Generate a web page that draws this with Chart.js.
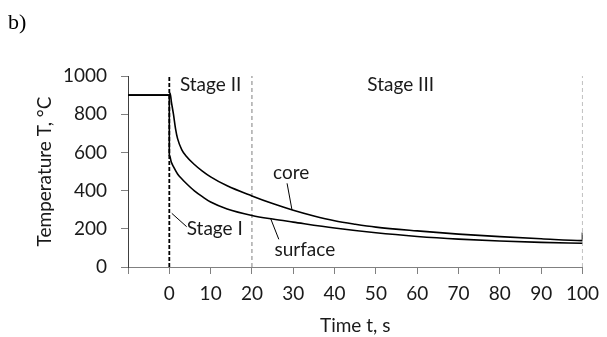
<!DOCTYPE html>
<html>
<head>
<meta charset="utf-8">
<script src="https://cdn.jsdelivr.net/npm/chart.js@4.4.1/dist/chart.umd.min.js"></script>
<style>
  body { margin: 0; background: #fff; }
  #wrap { width: 607px; height: 337px; position: relative; }
</style>
</head>
<body>
<div id="wrap"><canvas id="myChart"></canvas></div>
<script>
//data
const coreTime = [-10, 0, 0.2, 0.5, 1, 1.5, 2, 3, 4, 6, 8, 10, 14, 20, 25, 30, 35, 40, 45, 50, 60, 70, 80, 90, 100, 100];
const coreTemp = [900, 900, 910, 865, 800, 725, 672, 615, 583, 538, 502, 472, 425, 372, 332, 297, 267, 242, 224, 209, 189, 172, 159, 148, 138, 180];

const surfaceTime = [-10, 0, 0, 0.5, 1, 2, 3, 4, 6, 8, 10, 14, 20, 25, 30, 40, 50, 60, 70, 80, 90, 100];
const surfaceTemp = [900, 900, 586, 548, 525, 487, 462, 440, 400, 368, 340, 304, 270, 251, 235, 204, 179, 160, 146, 136, 129, 124];

const stageLines = [0, 20, 100];

const xTicks = [-10, 0, 10, 20, 30, 40, 50, 60, 70, 80, 90, 100];
const yTicks = [0, 200, 400, 600, 800, 1000];

const noteTexts = ["Stage II", "Stage III", "core", "surface", "Stage I"];
const noteX = [10, 56, 29.5, 32.8, 11];
const noteY = [953, 953, 492, 89, 199];

const leaderX = [[28.5, 29.7], [24.5, 26.5], [0.6, 4.2]];
const leaderY = [[438, 298], [255, 145], [281, 211]];

const FONT = "Lato";
const TEXT = "#1a1a1a";

function points(xs, ys) {
  return xs.map((x, i) => ({ x: x, y: ys[i] }));
}

const datasets = [
  {
    label: "core",
    data: points(coreTime, coreTemp),
    borderColor: "#000",
    borderWidth: 1.6,
    cubicInterpolationMode: "monotone",
  },
  {
    label: "surface",
    data: points(surfaceTime, surfaceTemp),
    borderColor: "#000",
    borderWidth: 1.6,
    cubicInterpolationMode: "monotone",
  },
];

stageLines.forEach((t, i) => {
  datasets.push({
    label: "stage " + t,
    data: points([t, t], [yTicks[0], yTicks[yTicks.length - 1]]),
    borderColor: i === 0 ? "#000" : "#7f7f7f",
    borderWidth: i === 0 ? 1.8 : 1,
    borderDash: i === 0 ? [4, 2] : [4, 3],
  });
});

leaderX.forEach((xs, i) => {
  datasets.push({
    label: "leader " + i,
    data: points(xs, leaderY[i]),
    borderColor: "#000",
    borderWidth: 1,
  });
});

// texts on the plot + the "b)" mark
const notes = {
  id: "notes",
  afterDatasetsDraw(chart) {
    const { ctx, scales } = chart;
    ctx.save();
    ctx.fillStyle = TEXT;
    ctx.font = "19px " + FONT;
    ctx.textAlign = "center";
    ctx.textBaseline = "middle";
    noteTexts.forEach((txt, i) => {
      ctx.fillText(txt, scales.x.getPixelForValue(noteX[i]), scales.y.getPixelForValue(noteY[i]));
    });
    ctx.font = "22px 'Liberation Serif'";
    ctx.textAlign = "left";
    ctx.textBaseline = "alphabetic";
    ctx.fillStyle = "#000";
    ctx.fillText("b)", 8, 29);
    ctx.restore();
  },
};

//config
const config = {
  type: "line",
  data: { datasets: datasets },
  options: {
    animation: false,
    responsive: true,
    maintainAspectRatio: false,
    elements: {
      point: { radius: 0 },
    },
    layout: {
      padding: { top: 76, right: 20, bottom: 0, left: 0 },
    },
    plugins: {
      legend: { display: false },
      tooltip: { enabled: false },
    },
    scales: {
      x: {
        type: "linear",
        min: xTicks[0],
        max: xTicks[xTicks.length - 1],
        afterBuildTicks: (scale) => { scale.ticks = xTicks.map((v) => ({ value: v })); },
        afterFit: (scale) => { scale.height = 70; },
        grid: { drawOnChartArea: false, drawTicks: true, tickLength: 7, color: "#808080" },
        border: { display: true, color: "#808080" },
        ticks: {
          color: TEXT,
          font: { family: FONT, size: 19 },
          padding: 8,
          maxRotation: 0,
          callback: (v) => (v < 0 ? "" : String(v)),
        },
        title: {
          display: true,
          text: "Time t, s",
          color: TEXT,
          font: { family: FONT, size: 19 },
          padding: { top: 0, bottom: 0 },
        },
      },
      y: {
        min: yTicks[0],
        max: yTicks[yTicks.length - 1],
        afterBuildTicks: (scale) => { scale.ticks = yTicks.map((v) => ({ value: v })); },
        afterFit: (scale) => { scale.width = 128; },
        grid: { drawOnChartArea: false, drawTicks: true, tickLength: 7, color: "#808080" },
        border: { display: true, color: "#404040" },
        ticks: {
          color: TEXT,
          font: { family: FONT, size: 19 },
          padding: 14,
          callback: (v) => String(v),
        },
        title: {
          display: true,
          text: "Temperature T, °C",
          color: TEXT,
          font: { family: FONT, size: 19 },
          padding: { top: 33, bottom: 0 },
        },
      },
    },
  },
  plugins: [notes],
};

const ctx = document.getElementById("myChart").getContext("2d");
const chart = new Chart(ctx, config);
</script>
</body>
</html>
